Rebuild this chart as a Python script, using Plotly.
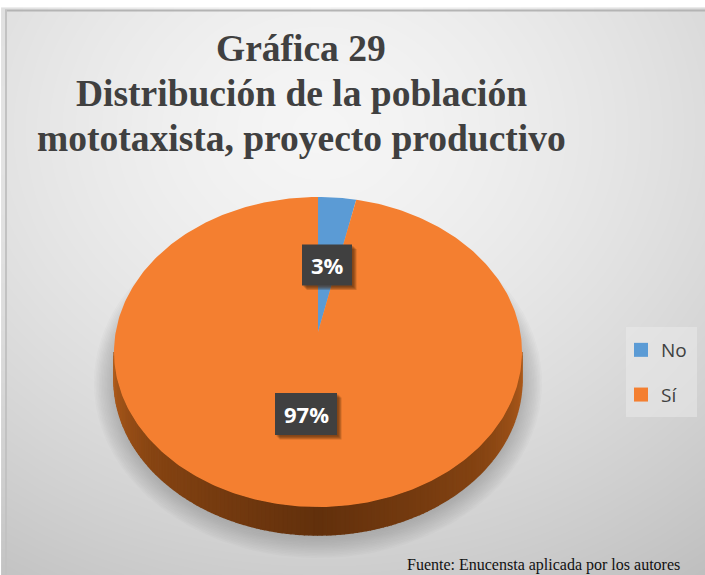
import numpy as np
import plotly.graph_objects as go

categories = ["No", "Sí"]
values = [3, 97]
colors = ["#5B9BD5", "#F47F30"]
title_lines = ["Gráfica 29", "Distribución de la población", "mototaxista, proyecto productivo"]
source_note = "Fuente: Enucensta aplicada por los autores"

W, H = 705, 575
CX, CY, RX, RY = 318.0, 352.0, 204.0, 155.0
DEPTH = 28.0
APEX_Y = 332.0


def rim_point(theta, dy=0.0):
    return CX + RX * np.sin(theta), CY - RY * np.cos(theta) + dy


def mix(a, b, t):
    return tuple(int(round(a[i] + (b[i] - a[i]) * t)) for i in range(3))


fig = go.Figure()

# Panel background: soft radial gradient, brightest above the disc
gx = np.linspace(5, W, 90)
gy = np.linspace(11, H, 80)
xx, yy = np.meshgrid(gx, gy)
dist = np.sqrt(((xx - 320) / 620) ** 2 + ((yy - 130) / 520) ** 2)
shade = 245 - 50 * np.clip(dist, 0, 1.1) ** 1.5
fig.add_trace(go.Heatmap(x=gx, y=gy, z=shade, zmin=0, zmax=255, zsmooth="best",
                         colorscale=[[0, "#000000"], [1, "#FFFFFF"]],
                         showscale=False, hoverinfo="skip"))

# Soft drop shadow under the disc
t_full = np.linspace(0, 2 * np.pi, 180)
for k in range(14):
    grow = 20 - k * 1.6
    sx = CX + (RX + grow) * np.sin(t_full)
    sy = CY + DEPTH + 3 - (RY + grow) * np.cos(t_full)
    fig.add_trace(go.Scatter(x=sx, y=sy, mode="lines", fill="toself", line=dict(width=0),
                             fillcolor="rgba(115,120,130,0.04)", showlegend=False, hoverinfo="skip"))

# Side wall of the disc, shaded in narrow bands
edges = np.linspace(np.pi / 2, 3 * np.pi / 2, 145)
side_light, side_mid, side_dark = (176, 92, 28), (134, 68, 18), (98, 48, 12)
for a, b in zip(edges[:-1], edges[1:]):
    t = np.linspace(a, b, 3)
    px, py = rim_point(t)
    qx, qy = rim_point(t[::-1], DEPTH)
    pos = abs((a + b) / 2 - np.pi) / (np.pi / 2)
    col = mix(side_dark, side_mid, pos / 0.6) if pos < 0.6 else mix(side_mid, side_light, (pos - 0.6) / 0.4)
    css = f"rgb{col}"
    fig.add_trace(go.Scatter(x=np.r_[px, qx], y=np.r_[py, qy], mode="lines", fill="toself",
                             line=dict(width=1.5, color=css), fillcolor=css,
                             showlegend=False, hoverinfo="skip"))

# Top face: one wedge per category, angles taken from the shares
total = sum(values)
start = 0.0
for name, val, col in zip(categories, values, colors):
    end = start + 2 * np.pi * val / total
    t = np.linspace(start, end, max(4, int(val * 4)))
    ax, ay = rim_point(t)
    fig.add_trace(go.Scatter(x=np.r_[CX, ax, CX], y=np.r_[APEX_Y, ay, APEX_Y], mode="lines",
                             fill="toself", line=dict(width=0), fillcolor=col,
                             name=name, showlegend=False,
                             hovertemplate=f"{name}: {val}%<extra></extra>"))
    start = end

# Legend entries
for name, col in zip(categories, colors):
    fig.add_trace(go.Scatter(x=[None], y=[None], mode="markers", name=name, legendgroup=name,
                             marker=dict(symbol="square", size=14, color=col)))

shapes = [dict(type="line", xref="x", yref="y", x0=5, x1=W, y0=10.5, y1=10.5,
               line=dict(color="#B4B4B4", width=2), layer="above"),
          dict(type="line", xref="x", yref="y", x0=6, x1=6, y0=10, y1=H,
               line=dict(color="#C2C2C2", width=2), layer="above"),
          dict(type="rect", xref="x", yref="y", x0=626, x1=697, y0=327, y1=417, line=dict(width=0),
               fillcolor="rgba(235,235,235,0.5)", layer="above")]

# Title lines are placed one by one for a tighter leading
annotations = [dict(text=f"<b>{line}</b>", x=301, y=ty, xref="x", yref="y", showarrow=False,
                    font=dict(family="Liberation Serif", size=37.5, color="#404040"))
               for line, ty in zip(title_lines, (48, 93, 138))]
annotations.append(dict(text=source_note, x=405, y=565, xref="x", yref="y", showarrow=False,
                        xanchor="left", font=dict(family="Liberation Serif", size=16, color="#111111")))

# Percentage tags: dark box with a small soft shadow
label_pos = [(327, 265, 50, 41), (306, 414, 62, 42)]
for val, (lx, ly, bw, bh) in zip(values, label_pos):
    for k in range(4):
        off = 1.5 + k
        shapes.append(dict(type="rect", xref="x", yref="y", x0=lx - bw / 2 + off, x1=lx + bw / 2 + off,
                           y0=ly - bh / 2 + off, y1=ly + bh / 2 + off, line=dict(width=0),
                           fillcolor="rgba(70,35,10,0.22)", layer="above"))
    shapes.append(dict(type="rect", xref="x", yref="y", x0=lx - bw / 2, x1=lx + bw / 2,
                       y0=ly - bh / 2, y1=ly + bh / 2, line=dict(width=0),
                       fillcolor="#404040", layer="above"))
    annotations.append(dict(text=f"<b>{val}%</b>", x=lx, y=ly, xref="x", yref="y", showarrow=False,
                            font=dict(family="Open Sans", size=22, color="#FFFFFF")))

fig.update_layout(
    width=W, height=H, autosize=False,
    margin=dict(l=0, r=0, t=0, b=0),
    paper_bgcolor="#FFFFFF", plot_bgcolor="#FFFFFF",
    xaxis=dict(range=[0, W], visible=False, fixedrange=True),
    yaxis=dict(range=[H, 0], visible=False, fixedrange=True),
    shapes=shapes, annotations=annotations,
    legend=dict(x=621 / W, y=1 - 331 / H, xanchor="left", yanchor="top",
                bgcolor="rgba(0,0,0,0)", tracegroupgap=17,
                font=dict(family="Open Sans", size=19, color="#404040"),
                itemwidth=30),
    showlegend=True,
)

fig.write_html("out.html", config=dict(displayModeBar=False))
